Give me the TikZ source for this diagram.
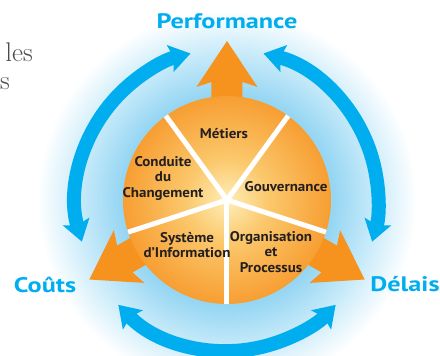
\documentclass[tikz,border=0pt]{standalone}
\usepackage{fontspec}
\newfontfamily\labelfont[FakeStretch=1.07]{PT Sans}
\newfontfamily\goalfont[FakeStretch=1.25]{PT Sans}
\usetikzlibrary{arrows.meta,positioning}
\definecolor{petalorange}{RGB}{246,146,30}
\definecolor{loopblue}{RGB}{0,174,239}
\definecolor{haloblue}{RGB}{150,214,243}
\definecolor{halomid}{RGB}{196,233,249}
\definecolor{discyellow}{RGB}{254,238,185}
\definecolor{discmid}{RGB}{251,200,108}
\definecolor{discorange}{RGB}{247,158,50}
\definecolor{inkgray}{RGB}{35,31,32}
\definecolor{pagegray}{RGB}{75,75,75}
\pgfdeclareradialshading{halo}{\pgfpoint{0bp}{0bp}}{color(0bp)=(haloblue); color(14bp)=(haloblue); color(19bp)=(halomid); color(25bp)=(white); color(50bp)=(white)}
\pgfdeclareradialshading{disc}{\pgfpoint{0bp}{0bp}}{color(0bp)=(discyellow); color(10bp)=(discmid); color(25bp)=(discorange); color(50bp)=(discorange)}
\tikzstyle{glow} = [circle,inner sep=0,outer sep=0,minimum size=380pt,shading=halo]
\tikzstyle{disc} = [circle,inner sep=0,outer sep=0,minimum size=208pt,shading=disc]
\tikzstyle{petal} = [fill=petalorange]
\tikzstyle{ringarrow} = [draw=loopblue,line width=14pt,{Stealth[length=21pt,width=28pt,inset=4pt,line width=0pt]}-{Stealth[length=21pt,width=28pt,inset=4pt,line width=0pt]}]
\tikzstyle{spoke} = [draw=white,line width=5pt]
\tikzstyle{pillar} = [align=center,inner sep=0,text=inkgray,font=\labelfont\bfseries\fontsize{14}{15.5}\selectfont]
\tikzstyle{goal} = [inner sep=0,text=loopblue,font=\goalfont\bfseries\fontsize{21}{24}\selectfont]
\tikzstyle{page} = [inner sep=0,text=pagegray,font=\fontsize{27}{30}\selectfont]
\def \rr {151}

\begin{document}
\begin{tikzpicture}[x=1pt,y=1pt]
  \useasboundingbox (-227,-156) rectangle (213,200);
  \node[glow] (h) at (0,0) {};
  \draw[ringarrow] (196:\rr) arc[start angle=196,end angle=104,radius=\rr];
  \draw[ringarrow] (76:\rr) arc[start angle=76,end angle=-16,radius=\rr];
  \draw[ringarrow] (224:\rr) arc[start angle=224,end angle=316,radius=\rr];
  \fill[petal,rotate=90] (0,15.5) -- (118,15.5) -- (113,30.5) -- (159,0) -- (113,-30.5) -- (118,-15.5) -- (0,-15.5) -- cycle;
  \fill[petal,rotate=210] (0,15.5) -- (118,15.5) -- (113,30.5) -- (159,0) -- (113,-30.5) -- (118,-15.5) -- (0,-15.5) -- cycle;
  \fill[petal,rotate=330] (0,15.5) -- (118,15.5) -- (113,30.5) -- (159,0) -- (113,-30.5) -- (118,-15.5) -- (0,-15.5) -- cycle;
  \node[disc] (c) at (0,0) {};
  \draw[spoke] (c.center) -- (c.54);
  \draw[spoke] (c.center) -- (c.126);
  \draw[spoke] (c.center) -- (c.198);
  \draw[spoke] (c.center) -- (c.270);
  \draw[spoke] (c.center) -- (c.342);
  \node[pillar] (metiers) at (-3,66) {Métiers};
  \node[pillar] (conduite) at (-64,22) {Conduite\\du\\Changement};
  \node[pillar] (gouv) at (59,13) {Gouvernance};
  \node[pillar] (si) at (-40,-45) {Système\\d’Information};
  \node[pillar] (orga) at (44,-52) {Organisation\\et\\Processus};
  \node[goal] (perf) at (0,179) {Performance};
  \node[goal] (couts) at (-182,-85) {Coûts};
  \node[goal] (delais) at (178,-84) {Délais};
  \node[page,anchor=base east] (les) at (-194,138) {les};
  \node[page,anchor=base west] (s) at (-227,110) {s};
\end{tikzpicture}
\end{document}
